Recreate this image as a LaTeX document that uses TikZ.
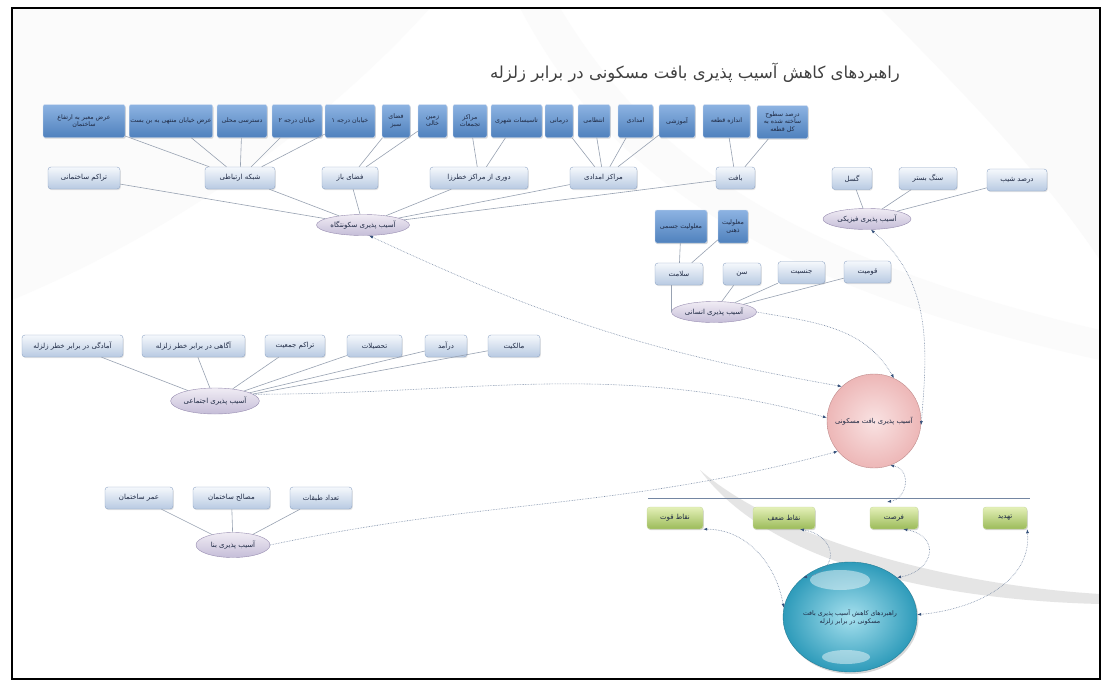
\documentclass[tikz,border=0pt]{standalone}
\usepackage{fontspec}
\newfontfamily\prsfont[Script=Arabic]{DejaVu Sans}
\TeXXeTstate=1
\usetikzlibrary{shapes.geometric,shadows,arrows.meta}
\newcommand{\prs}[1]{{\prsfont\beginR #1\endR}}

\definecolor{bluetop}{HTML}{8DB3E2}
\definecolor{bluebot}{HTML}{4F81BD}
\definecolor{blueedge}{HTML}{D0DDF0}
\definecolor{greytop}{HTML}{F5F8FC}
\definecolor{greybot}{HTML}{B8CAE2}
\definecolor{greyedge}{HTML}{8FA5C5}
\definecolor{lilactop}{HTML}{F0ECF4}
\definecolor{lilacbot}{HTML}{C5BDD8}
\definecolor{lilacedge}{HTML}{978CB0}
\definecolor{greentop}{HTML}{E4F0B8}
\definecolor{greenbot}{HTML}{9BBB59}
\definecolor{greenedge}{HTML}{C9DBA0}
\definecolor{pinkin}{HTML}{F9E2E2}
\definecolor{pinkout}{HTML}{EDB7B7}
\definecolor{pinkedge}{HTML}{BF8B8B}
\definecolor{cyanin}{HTML}{A6E0EE}
\definecolor{cyanout}{HTML}{2E9BBA}
\definecolor{linkgrey}{HTML}{98A2B2}
\definecolor{flowgrey}{HTML}{7486A2}
\definecolor{tipblue}{HTML}{34507A}
\definecolor{inktext}{HTML}{1F2A44}

\tikzstyle{topbox} = [draw=blueedge, rounded corners=2pt, top color=bluetop, bottom color=bluebot, text=inktext, font=\fontsize{6.3}{7.3}\selectfont, align=center, inner sep=1pt, minimum height=33pt, drop shadow={opacity=.3,shadow xshift=.8pt,shadow yshift=-1.2pt}]
\tikzstyle{midbox} = [draw=greyedge, rounded corners=3pt, top color=greytop, bottom color=greybot, text=inktext, font=\fontsize{7}{8}\selectfont, align=center, inner sep=1pt, minimum height=22pt, drop shadow={opacity=.2,shadow xshift=.8pt,shadow yshift=-1.2pt}]
\tikzstyle{group} = [ellipse, draw=lilacedge, top color=lilactop, bottom color=lilacbot, text=inktext, font=\fontsize{7}{8}\selectfont, inner sep=0pt, minimum height=21pt]
\tikzstyle{swot} = [draw=greenedge, rounded corners=3pt, top color=greentop, bottom color=greenbot, text=inktext, font=\fontsize{7}{8}\selectfont, inner sep=1pt, minimum height=22pt, drop shadow={opacity=.3,shadow xshift=.8pt,shadow yshift=-1.2pt}]
\tikzstyle{link} = [draw=linkgrey, line width=.6pt]
\tikzstyle{flow} = [draw=flowgrey, densely dotted, line width=.6pt]

\begin{document}
\begin{tikzpicture}[x=1pt,y=-1pt,>={Latex[length=4pt,width=3pt,color=tipblue]}]
  \useasboundingbox (0,0) rectangle (1103,680);
  \fill[white] (0,0) rectangle (1103,680);

  % background swooshes
  \fill[gray!3] (12,8) -- (430,8) .. controls (330,120) and (180,230) .. (12,300) -- cycle;
  \fill[gray!4] (880,8) -- (1100,8) -- (1100,260) .. controls (1040,170) and (960,90) .. (880,8);
  \fill[gray!3] (560,8) .. controls (640,140) and (760,250) .. (1100,330) -- (1100,360) .. controls (740,280) and (600,160) .. (520,8) -- cycle;
  \fill[gray!20] (700,470) .. controls (780,540) and (950,585) .. (1100,594) -- (1100,604) .. controls (940,600) and (770,565) .. (700,470);

  % title
  \node[text=black!75, font=\fontsize{16.5}{18}\selectfont] (title) at (695,73) {\prs{راهبردهای کاهش آسیب پذیری بافت مسکونی در برابر زلزله}};

  % settlement tree
  \node[topbox, minimum width=82pt] (b1) at (84,121) {\prs{عرض معبر به ارتفاع}\\\prs{ساختمان}};
  \node[topbox, minimum width=82pt] (b2) at (171,121) {\prs{عرض خیابان منتهی به بن بست}};
  \node[topbox, minimum width=50pt] (b3) at (242,121) {\prs{دسترسی محلی}};
  \node[topbox, minimum width=50pt] (b4) at (297,121) {\prs{خیابان درجه ۲}};
  \node[topbox, minimum width=50pt] (b5) at (350,121) {\prs{خیابان درجه ۱}};
  \node[topbox, minimum width=28pt] (b6) at (396,121) {\prs{فضای}\\\prs{سبز}};
  \node[topbox, minimum width=29pt] (b7) at (432.5,121) {\prs{زمین}\\\prs{خالی}};
  \node[topbox, minimum width=34pt] (b8) at (470,121) {\prs{مراکز}\\\prs{تجمعات}};
  \node[topbox, minimum width=51pt] (b9) at (516.5,121) {\prs{تاسیسات شهری}};
  \node[topbox, minimum width=28pt] (b10) at (559,121) {\prs{درمانی}};
  \node[topbox, minimum width=32pt] (b11) at (594,121) {\prs{انتظامی}};
  \node[topbox, minimum width=35pt] (b12) at (635.5,121) {\prs{امدادی}};
  \node[topbox, minimum width=36pt] (b13) at (677,121) {\prs{آموزشی}};
  \node[topbox, minimum width=47pt] (b14) at (726.5,121) {\prs{اندازه قطعه}};
  \node[topbox, minimum width=51pt] (b15) at (782.5,122) {\prs{درصد سطوح}\\\prs{ساخته شده به}\\\prs{کل قطعه}};

  \node[midbox, minimum width=72pt] (s1) at (84,178) {\prs{تراکم ساختمانی}};
  \node[midbox, minimum width=70pt] (s2) at (240,178) {\prs{شبکه ارتباطی}};
  \node[midbox, minimum width=56pt] (s3) at (350,178) {\prs{فضای باز}};
  \node[midbox, minimum width=98pt] (s4) at (479,178) {\prs{دوری از مراکز خطرزا}};
  \node[midbox, minimum width=67pt] (s5) at (603.5,178) {\prs{مراکز امدادی}};
  \node[midbox, minimum width=39pt] (s6) at (735.5,178) {\prs{بافت}};

  \node[group, minimum width=93pt] (sak) at (363,225) {\prs{آسیب پذیری سکونتگاه}};

  % physical
  \node[midbox, minimum width=40pt] (p1) at (852,178.5) {\prs{گسل}};
  \node[midbox, minimum width=58pt] (p2) at (928,178.5) {\prs{سنگ بستر}};
  \node[midbox, minimum width=60pt] (p3) at (1017,180) {\prs{درصد شیب}};
  \node[group, minimum width=88pt] (phys) at (867,219) {\prs{آسیب پذیری فیزیکی}};

  % human
  \node[topbox, minimum width=52pt] (h1) at (681,226.5) {\prs{معلولیت جسمی}};
  \node[topbox, minimum width=30pt] (h2) at (733,226.5) {\prs{معلولیت}\\\prs{ذهنی}};
  \node[midbox, minimum width=48pt] (h3) at (679,274) {\prs{سلامت}};
  \node[midbox, minimum width=38pt] (h4) at (742,274) {\prs{سن}};
  \node[midbox, minimum width=47pt] (h5) at (801.5,272.5) {\prs{جنسیت}};
  \node[midbox, minimum width=47pt] (h6) at (867.5,272) {\prs{قومیت}};
  \node[group, minimum width=85pt] (hum) at (714,312) {\prs{آسیب پذیری انسانی}};

  % social
  \node[midbox, minimum width=101pt] (c1) at (72.5,346) {\prs{آمادگی در برابر خطر زلزله}};
  \node[midbox, minimum width=103pt] (c2) at (193.5,346) {\prs{آگاهی در برابر خطر زلزله}};
  \node[midbox, minimum width=60pt] (c3) at (295,346) {\prs{تراکم جمعیت}};
  \node[midbox, minimum width=55pt] (c4) at (374.5,346) {\prs{تحصیلات}};
  \node[midbox, minimum width=42pt] (c5) at (446,346) {\prs{درآمد}};
  \node[midbox, minimum width=52pt] (c6) at (514,346) {\prs{مالکیت}};
  \node[group, minimum width=85pt, minimum height=26pt] (soc) at (215,401) {\prs{آسیب پذیری اجتماعی}};

  % building
  \node[midbox, minimum width=68pt] (d1) at (139,498) {\prs{عمر ساختمان}};
  \node[midbox, minimum width=77pt] (d2) at (231.5,498) {\prs{مصالح ساختمان}};
  \node[midbox, minimum width=62pt] (d3) at (321,498) {\prs{تعداد طبقات}};
  \node[group, minimum width=74pt, minimum height=25pt] (bana) at (233,545) {\prs{آسیب پذیری بنا}};

  % centre
  \node[circle, draw=pinkedge, inner color=pinkin, outer color=pinkout, minimum size=94pt, text=inktext, font=\fontsize{6.8}{8}\selectfont] (main) at (874,421) {\prs{آسیب پذیری بافت مسکونی}};

  % swot
  \coordinate (hl) at (648,498);
  \coordinate (hr) at (1030,498);
  \coordinate (swotpt) at (887,502);
  \draw[draw=flowgrey, line width=.7pt] (hl) -- (hr);
  \node[swot, minimum width=56pt] (g1) at (675,518) {\prs{نقاط قوت}};
  \node[swot, minimum width=62pt] (g2) at (784,518) {\prs{نقاط ضعف}};
  \node[swot, minimum width=48pt] (g3) at (894,518) {\prs{فرصت}};
  \node[swot, minimum width=44pt] (g4) at (1005,518) {\prs{تهدید}};

  \node[ellipse, draw=cyanout!80!black, inner color=cyanin, outer color=cyanout, minimum width=134pt, minimum height=110pt, inner sep=0pt, align=center, text=inktext, font=\fontsize{6.3}{8}\selectfont, drop shadow={opacity=.3,shadow xshift=1.5pt,shadow yshift=-2pt}] (plan) at (850,617) {\prs{راهبردهای کاهش آسیب پذیری بافت}\\\prs{مسکونی در برابر زلزله}};
  \fill[white, opacity=.45] (840,580) ellipse (30pt and 10pt);
  \fill[white, opacity=.45] (846,657) ellipse (24pt and 7pt);

  % tree links
  \draw[link] (b1) edge (s2) (b2) edge (s2) (b3) edge (s2) (b4) edge (s2) (b5) edge (s2)
    (b6) edge (s3) (b7) edge (s3)
    (b8) edge (s4) (b9) edge (s4)
    (b10) edge (s5) (b11) edge (s5) (b12) edge (s5) (b13) edge (s5)
    (b14) edge (s6) (b15) edge (s6)
    (s1) edge (sak) (s2) edge (sak) (s3) edge (sak) (s4) edge (sak) (s5) edge (sak) (s6) edge (sak)
    (p1) edge (phys) (p2) edge (phys) (p3) edge (phys)
    (h1) edge (h3) (h2) edge (h3) (h4) edge (hum) (h5) edge (hum) (h6) edge (hum)
    (c1) edge (soc) (c2) edge (soc) (c3) edge (soc) (c4) edge (soc) (c5) edge (soc) (c6) edge (soc)
    (d1) edge (bana) (d2) edge (bana) (d3) edge (bana);
  \draw[link] (h3.south -| hum.west) -- (hum.west);

  % dotted flows
  \draw[flow,<->] (sak.-60) to[out=-25,in=170] (main.133);
  \draw[flow,->] (soc.10) to[out=0,in=165] (main.176);
  \draw[flow,->] (hum.east) to[out=-10,in=120] (main.65);
  \draw[flow,->] (bana.east) to[out=12,in=195] (main.220);
  \draw[flow,<->] (phys.-70) to[out=-40,in=85] (main.-5);
  \draw[flow,<->] (main.-70) to[out=-10,in=10,looseness=1.5] (swotpt);
  \draw[flow,<->] (g1.south east) to[out=0,in=100] (plan.172);
  \draw[flow,<->] (g2.-35) to[out=-10,in=10,looseness=2] (plan.140);
  \draw[flow,<->] (g3.-50) to[out=-10,in=10,looseness=2] (plan.40);
  \draw[flow,<->] (g4.south east) to[out=-85,in=5] (plan.2);

  % frame
  \draw[black, line width=1.2pt] (12,8) rectangle (1100,679);
\end{tikzpicture}
\end{document}
